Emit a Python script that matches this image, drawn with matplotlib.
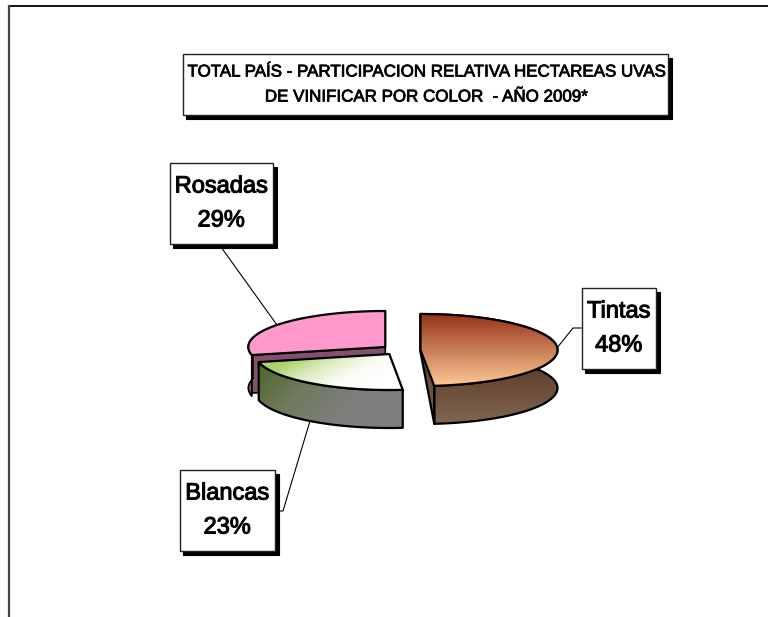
import numpy as np
import matplotlib
matplotlib.use('Agg')
import matplotlib.pyplot as plt
import matplotlib.patheffects as pe
from matplotlib.path import Path
from matplotlib.patches import PathPatch, Rectangle
from matplotlib.colors import to_rgb

title_lines = ['TOTAL PAÍS - PARTICIPACION RELATIVA HECTAREAS UVAS', 'DE VINIFICAR POR COLOR  - AÑO 2009*']
categories = ['Tintas', 'Blancas', 'Rosadas']
shown_pct = [48, 23, 29]
values = [48.4, 23.0, 28.6]

plt.rcParams['font.family'] = ['Liberation Sans']

fig = plt.figure(figsize=(7.68, 6.17), dpi=100)
ax = fig.add_axes([0, 0, 1, 1])
ax.set_xlim(0, 768)
ax.set_ylim(617, 0)
ax.axis('off')

# pie geometry, in pixels
ry, depth = 36, 38
radii = [137, 134, 137]
centres = [(420.5, 350), (389.3, 354), (385.3, 347)]

edges = np.cumsum([0] + values) / sum(values) * 2 * np.pi


def rim(k, a0, a1, dy=0):
    cx, cy = centres[k]
    a = np.linspace(a0, a1, 150)
    return np.column_stack([cx + radii[k] * np.sin(a), cy - ry * np.cos(a) + dy])


def fill(verts, colors, z, dx=0, dy=1, lw=1.6):
    # gradient image clipped to a polygon, with black outline
    # dx, dy give the direction of the gradient
    verts = np.asarray(verts)
    x0, x1 = verts[:, 0].min(), verts[:, 0].max()
    y0, y1 = verts[:, 1].min(), verts[:, 1].max()
    xx, yy = np.meshgrid(np.linspace(x0, x1, 200), np.linspace(y0, y1, 200))
    t = xx * dx + yy * dy
    t = (t - t.min()) / (t.max() - t.min()) * (len(colors) - 1)
    c = np.array([to_rgb(k) for k in colors])
    img = np.dstack([np.interp(t, range(len(colors)), c[:, i]) for i in range(3)])
    im = ax.imshow(img, extent=[x0, x1, y1, y0], aspect='auto', zorder=z, interpolation='bilinear')
    path = Path(np.vstack([verts, verts[0]]), closed=True)
    patch = PathPatch(path, facecolor='none', edgecolor='black', lw=lw, zorder=z + 0.5, joinstyle='round')
    ax.add_patch(patch)
    im.set_clip_path(patch)


def side(k, a0, a1, d=depth):
    return np.vstack([rim(k, a0, a1), rim(k, a0, a1, d)[::-1]])


# Rosadas is drawn first, it is at the back
a0, a1 = edges[2], edges[3]
cx, cy = centres[2]
fill(side(2, a0, np.deg2rad(285), 41), ['#8a5474', '#8a5474'], 2, lw=1.2)
fill([(cx, cy), rim(2, a0, a0)[0], rim(2, a0, a0, 38)[0], (cx, cy + 38)], ['#85506e', '#85506e'], 2.2, lw=1.2)
fill(np.vstack([[(cx, cy)], rim(2, a0, a1)]), ['#ff99cc', '#ff99cc'], 3)

# Blancas
cx, cy = centres[1]
a0, a1 = edges[1], edges[2]
fill(side(1, a0, a1), ['#4f6528', '#6f7a5e', '#7f7f7f', '#7f7f7f'], 4, dx=1, dy=1)
fill(np.vstack([[(cx, cy)], rim(1, a0, a1)]),
     ['#a9d26a', '#a9d26a', '#dcebc0', '#f8fbf2', '#ffffff', '#ffffff'], 5, dx=1, dy=2)

# Tintas
cx, cy = centres[0]
a0, a1 = edges[0], edges[1]
fill(side(0, a0, a1), ['#4f2818', '#4f2818', '#604030', '#70533f', '#7f6650'], 6)
fill([rim(0, 0, 0)[0], rim(0, a1, a1)[0], rim(0, a1, a1, depth)[0], rim(0, 0, 0, depth)[0]],
     ['#4f2818', '#7f6650'], 6.2)
fill(np.vstack([[(cx, cy)], rim(0, a0, a1)]), ['#96341a', '#fcc994'], 7)

# page frame
ax.plot([768, 9], [6, 6], color='black', lw=1.3, zorder=1)
ax.plot([9, 9], [6, 617], color='#444444', lw=1.6, zorder=1)


def box(x0, y0, x1, y1, lines, size, step, stroke):
    ax.add_patch(Rectangle((x0 + 3.5, y0 + 4), x1 - x0, y1 - y0, fc='black', ec='black', lw=0.8, zorder=10))
    ax.add_patch(Rectangle((x0, y0), x1 - x0, y1 - y0, fc='white', ec='#222222', lw=1, zorder=11))
    ym = (y0 + y1) / 2
    for i, s in enumerate(lines):
        ax.text((x0 + x1) / 2, ym + (i - (len(lines) - 1) / 2) * step, s, fontsize=size,
                ha='center', va='center', zorder=12, color='black',
                path_effects=[pe.withStroke(linewidth=stroke, foreground='black')])


box(182.5, 54, 668, 115, title_lines, 12.2, 25, 0.55)
box(169.5, 163, 273, 244, [categories[2], '%d%%' % shown_pct[2]], 17, 34, 0.75)
box(179.5, 470, 275, 551, [categories[1], '%d%%' % shown_pct[1]], 17, 34, 0.75)
box(581.5, 288, 656, 369, [categories[0], '%d%%' % shown_pct[0]], 17, 34, 0.75)

# leader lines
ax.plot([221, 277], [247, 325], color='black', lw=0.8, zorder=9)
ax.plot([278, 283, 310], [511, 511, 421], color='black', lw=0.8, zorder=9)
ax.plot([557, 573, 581], [348, 328, 328], color='black', lw=0.8, zorder=9)

ax.set_xlim(0, 768)
ax.set_ylim(617, 0)
fig.savefig('out.png', dpi=100)
